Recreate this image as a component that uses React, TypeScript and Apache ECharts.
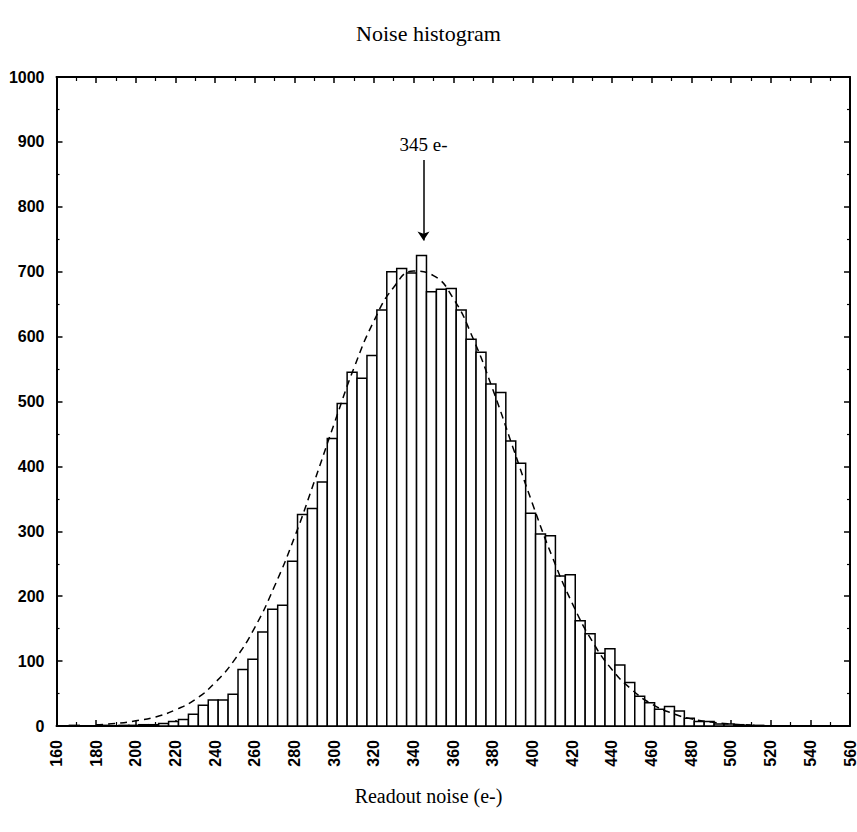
import React, { useEffect, useRef } from 'react';
import * as echarts from 'echarts';

// Histogram bins (readout noise, e-)
const binStart = 166.5; // left edge of first bin
const binWidth = 5;
const counts = [
  1, 0, 0, 1, 0, 1, 1,
  2, 2, 4, 7, 10, 18, 32, 40, 40, 49, 87, 103, 145, 180, 186, 254, 326, 335, 376, 443,
  497, 545, 536, 571, 641, 700, 705, 698, 725, 669, 673, 674, 641, 596, 576, 527, 514,
  439, 405, 328, 296, 293, 231, 233, 162, 142, 112, 119, 94, 67, 46, 36, 26, 30, 23,
  12, 7, 7, 3, 3, 2, 1, 1,
];

// Gaussian fit curve (dashed)
const fitX = [180, 190, 200, 210, 220, 230, 240, 250, 260, 270, 280, 290, 300, 310, 320, 330, 340,
  350, 360, 370, 380, 390, 400, 410, 420, 430, 440, 450, 460, 470, 480, 490, 500, 510];
const fitY = [2, 4, 8, 14, 25, 41, 67, 103, 152, 216, 291, 377, 466, 552, 624, 676, 701,
  694, 659, 597, 518, 430, 342, 260, 189, 131, 87, 56, 34, 20, 11, 6, 3, 1.5];

const peakValue = 345;
const peakLabel = '345 e-';
const arrowTop = 872;
const arrowBottom = 748;

const titleText = 'Noise histogram';
const xName = 'Readout noise (e-)';

export default function App() {
  const ref = useRef<HTMLDivElement>(null);
  useEffect(() => {
    if (!ref.current) return;
    const chart = echarts.init(ref.current, null, { renderer: 'svg' });
    const barData = counts.map((c, i) => [binStart + i * binWidth, binStart + (i + 1) * binWidth, c]);
    const fitData = fitX.map((x, i) => [x, fitY[i]]);
    const sans = 'Liberation Sans, Arial, sans-serif';
    const serif = 'Liberation Serif, Times New Roman, serif';
    const axisLine = { show: true, onZero: false, lineStyle: { color: '#000', width: 2 } };
    const tick = { show: true, inside: true, length: 6, lineStyle: { color: '#000', width: 1.5 } };
    chart.setOption({
      animation: false,
      backgroundColor: '#fff',
      title: {
        text: titleText,
        left: 'center',
        top: 17,
        textStyle: { fontFamily: serif, fontSize: 22, fontWeight: 'normal', color: '#000' },
      },
      graphic: [
        {
          type: 'text',
          left: 'center',
          top: 786,
          style: { text: xName, font: `20px ${serif}`, fill: '#000' },
        },
      ],
      grid: { left: 56.5, right: 7, top: 77, bottom: 106, containLabel: false, outerBoundsMode: 'none' },
      xAxis: [
        {
          type: 'value', min: 160, max: 560, interval: 20, position: 'bottom',
          axisLine, axisTick: tick,
          minorTick: { show: true, splitNumber: 2, length: 4, lineStyle: { color: '#000', width: 1.2 } },
          splitLine: { show: false },
          axisLabel: { rotate: 90, fontSize: 16, fontWeight: 'bold', color: '#000', fontFamily: sans, margin: 14, formatter: (v: number) => String(v) },
        },
        {
          type: 'value', min: 160, max: 560, interval: 20, position: 'top',
          axisLine, axisTick: tick,
          minorTick: { show: true, splitNumber: 2, length: 4, lineStyle: { color: '#000', width: 1.2 } },
          splitLine: { show: false },
          axisLabel: { show: false },
        },
      ],
      yAxis: [
        {
          type: 'value', min: 0, max: 1000, interval: 100, position: 'left',
          axisLine, axisTick: tick,
          minorTick: { show: true, splitNumber: 2, length: 3, lineStyle: { color: '#000', width: 1.2 } },
          splitLine: { show: false },
          axisLabel: { fontSize: 16, fontWeight: 'bold', color: '#000', fontFamily: sans, margin: 12, formatter: (v: number) => String(v) },
        },
        {
          type: 'value', min: 0, max: 1000, interval: 100, position: 'right',
          axisLine, axisTick: tick,
          minorTick: { show: true, splitNumber: 2, length: 3, lineStyle: { color: '#000', width: 1.2 } },
          splitLine: { show: false },
          axisLabel: { show: false },
        },
      ],
      series: [
        {
          type: 'custom',
          xAxisIndex: 0,
          yAxisIndex: 0,
          encode: { x: [0, 1], y: 2 },
          data: barData,
          renderItem: (params: any, api: any) => {
            const v = api.value(2);
            if (!v) return null;
            const p0 = api.coord([api.value(0), v]);
            const p1 = api.coord([api.value(1), 0]);
            return {
              type: 'rect',
              shape: { x: p0[0], y: p0[1], width: p1[0] - p0[0], height: p1[1] - p0[1] },
              style: { fill: '#fff', stroke: '#000', lineWidth: 1.5 },
            };
          },
          z: 2,
        },
        {
          type: 'line',
          xAxisIndex: 0,
          yAxisIndex: 0,
          data: fitData,
          smooth: true,
          symbol: 'none',
          lineStyle: { color: '#000', width: 1.5, type: [7, 5] },
          z: 3,
          markLine: {
            silent: true,
            symbol: ['none', 'arrow'],
            symbolSize: 9,
            lineStyle: { color: '#000', width: 1.5, type: 'solid' },
            label: {
              show: true, position: 'start', formatter: peakLabel, distance: 6,
              fontFamily: serif, fontSize: 19, color: '#000',
            },
            data: [[{ coord: [peakValue, arrowTop] }, { coord: [peakValue, arrowBottom] }]],
          },
        },
      ],
    });
    return () => chart.dispose();
  }, []);
  return (
    <div
      ref={ref}
      style={{ position: 'fixed', left: 0, top: 0, width: 857, height: 832, background: '#fff' }}
    />
  );
}
